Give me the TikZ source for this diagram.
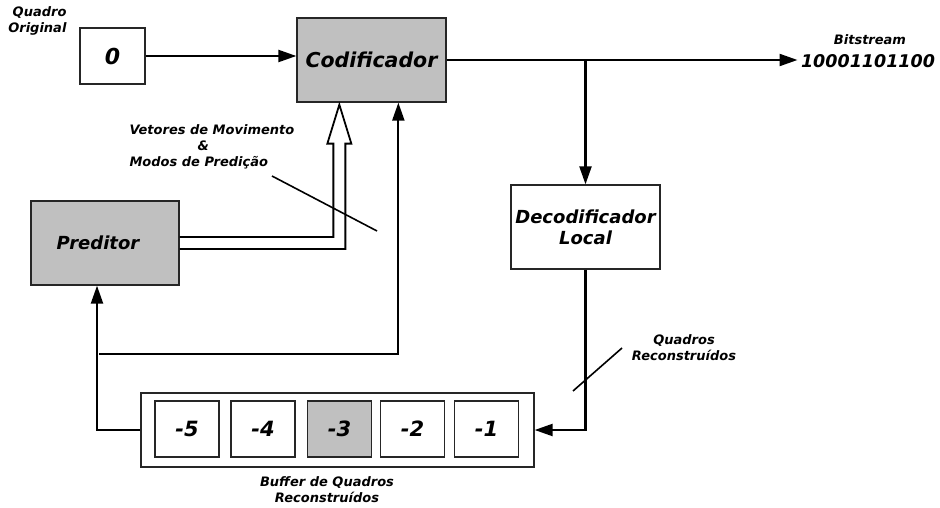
\documentclass[tikz,border=0pt]{standalone}
\usepackage{fontspec}
\setmainfont{DejaVu Sans}
\usetikzlibrary{arrows.meta, calc}
\definecolor{blockgray}{RGB}{192,192,192}

\begin{document}
\begin{tikzpicture}[x=1pt, y=-1pt,
  block/.style={draw=black!85, line width=1.3pt, rectangle, align=center, font=\bfseries\itshape\fontsize{18}{21}\selectfont},
  frame/.style={draw=black!85, line width=1.3pt, rectangle, minimum width=64pt, minimum height=56pt, font=\bfseries\itshape\fontsize{21}{24}\selectfont},
  note/.style={font=\bfseries\itshape\fontsize{13}{16}\selectfont},
  conn/.style={line width=2.2pt, -{Triangle[length=18pt, width=12pt]}},
  slashline/.style={line width=1.6pt}]
  \useasboundingbox (0,0) rectangle (940,508);

  % Encoder side
  \node[block, minimum width=65pt, minimum height=56pt, font=\bfseries\itshape\fontsize{22}{26}\selectfont] (zero) at (112.5,56) {0};
  \node[block, fill=blockgray, minimum width=149pt, minimum height=84pt, font=\bfseries\itshape\fontsize{20.5}{24}\selectfont] (cod) at (371.5,60) {Codificador};
  \node[block, fill=blockgray, minimum width=148pt, minimum height=84pt] (pred) at (105,243) {Preditor\hspace*{14pt}};
  \node[block, minimum width=149pt, minimum height=84pt] (dec) at (585.5,227) {Decodificador\\Local};

  % Buffer of reconstructed frames
  \node[block, minimum width=393pt, minimum height=74pt] (buf) at (337.5,430) {};
  \node[frame] (f5) at (187,429) {-5};
  \node[frame] (f4) at (263,429) {-4};
  \node[frame, fill=blockgray] (f3) at (339.5,429) {-3};
  \node[frame] (f2) at (412.5,429) {-2};
  \node[frame] (f1) at (486.5,429) {-1};

  % Labels
  \node[note, align=right, anchor=east] (orig) at (70,21) {Quadro\\Original};
  \node[note] (bitlbl) at (870,40) {Bitstream};
  \node[font=\bfseries\itshape\fontsize{17.5}{20}\selectfont] (bits) at (868,61) {10001101100};
  \node[note, align=left, anchor=west] (mvlbl) at (126,147) {Vetores de Movimento\\\hspace*{68pt}\&\\Modos de Predição};
  \node[note, align=center] (reclbl) at (684,348) {Quadros\\Reconstruídos};
  \node[note, align=center] (buflbl) at (327,490) {Buffer de Quadros\\Reconstruídos};

  % Arrows
  \draw[conn] (zero) -- (zero -| cod.west);
  \draw[conn] (cod.east) -- (cod.east -| bits.west);
  \draw[conn] (cod.east -| dec.north) -- (dec.north);
  \draw[conn] (dec.south) |- (buf.east);
  \draw[conn] (buf.west) -| ($(pred.south)+(-8,0)$);
  \coordinate (fb) at (99,354);
  \draw[conn] (fb) -| ($(cod.south west)+(102,0)$);

  % Hollow arrow: motion vectors and prediction modes
  \coordinate (mvtip) at ($(cod.south west)+(43,2)$);
  \draw[line width=1.8pt] ($(pred.east)+(0,-6)$) -| ($(mvtip)+(-6,39)$) -- ++(-6,0) -- (mvtip) -- ++(12,39) -- ++(-6,0) |- ($(pred.east)+(0,6)$);

  % Label pointers
  \draw[slashline] (272,176) -- (377,231);
  \draw[slashline] (573,391) -- (622,348);
\end{tikzpicture}
\end{document}
